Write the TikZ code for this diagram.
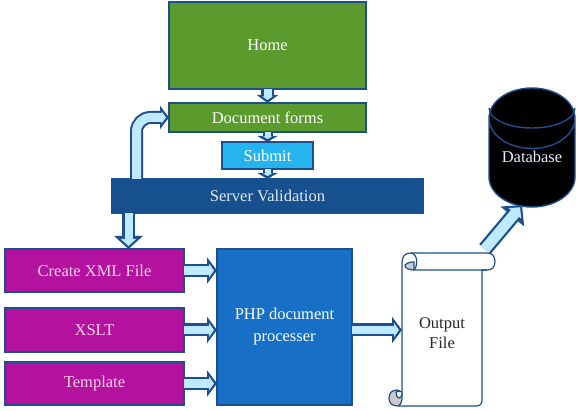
\documentclass[tikz,border=0pt]{standalone}
\usepackage{fontspec}
\setmainfont{Liberation Serif}
\usepackage{xcolor}
\usetikzlibrary{arrows.meta,positioning,calc,shapes.geometric}
\definecolor{edgeblue}{HTML}{1D4F8F}
\definecolor{cgreen}{HTML}{5B9A2C}
\definecolor{csubmit}{HTML}{25B4EE}
\definecolor{cserver}{HTML}{16508F}
\definecolor{cmagenta}{HTML}{B3129E}
\definecolor{cphp}{HTML}{176FC6}
\definecolor{arfill}{HTML}{BFE9FF}
\definecolor{curlgray}{HTML}{CBCBCB}
\tikzset{
  box/.style    = {draw=edgeblue, line width=1.4pt, align=center, inner sep=2pt, outer sep=0pt,
                   text=white, font=\fontsize{16.5}{22}\selectfont},
  gbox/.style   = {box, fill=cgreen, minimum width=197pt},
  mbox/.style   = {box, fill=cmagenta, minimum width=179pt, text=white!82!magenta},
  % outer width/length/head width, then the same for the light inside
  fatar/.style n args={6}{draw=edgeblue, line width=#1pt,
                   -{Triangle[length=#2pt, width=#3pt]},
                   postaction={draw=arfill, line width=#4pt,
                   -{Triangle[length=#5pt, width=#6pt]}, shorten >=3pt}},
  arsmall/.style = {fatar={10}{6}{20}{6}{2.5}{9}},
  armid/.style   = {fatar={13}{9}{23}{9}{4.5}{12}},
  arbig/.style   = {fatar={13}{10}{26}{8.5}{5}{14}},
  scrollln/.style = {draw=edgeblue, line width=1.2pt},
}
\begin{document}
\begin{tikzpicture}[x=1pt, y=-1pt]
  \useasboundingbox (0,0) rectangle (579,411);
  \node[gbox, minimum height=87pt] (home) at (267.5,45.5) {Home};
  \node[gbox, minimum height=29pt, below=14pt of home] (forms) {Document forms};
  \node[box, fill=csubmit, minimum width=91pt, minimum height=27pt, below=10pt of forms] (submit) {Submit};
  \node[box, fill=cserver, draw=cserver, minimum width=312pt, minimum height=34pt, below=10pt of submit, text=white!88!cserver] (server) {Server Validation};
  \node[mbox, minimum height=43pt] (create) at (94.5,270.5) {Create XML File};
  \node[mbox, minimum height=44pt, below=16pt of create] (xslt) {XSLT};
  \node[mbox, minimum height=43pt, below=10pt of xslt] (template) {Template};
  \node[box, fill=cphp, minimum width=135pt, minimum height=156pt, right=33pt of create.north east, anchor=north west] (php) {PHP document\\processer};
  \node[cylinder, shape border rotate=90, aspect=1.0, draw=edgeblue, line width=1.4pt, fill=black,
        minimum width=86pt, minimum height=119pt, outer sep=0pt, inner sep=0pt, text=white!88!cphp,
        anchor=shape center, font=\fontsize{16.5}{22}\selectfont] (db) at (532,147.5) {\raisebox{12pt}{Database}};
  \draw[draw=edgeblue, line width=1.4pt] ($(db.north)+(-43,20)$) arc[start angle=180, end angle=360, x radius=43pt, y radius=20pt];
  \coordinate (scrollout) at (485,249);

  % small arrows down the middle
  \draw[fatar={13}{8}{21}{8}{3.5}{10}] (home) -- (forms);
  \draw[arsmall] (forms) -- (submit);
  \draw[arsmall] (submit) -- (server);

  % back up to the forms and down to the xml box
  \draw[armid, rounded corners=14pt] ($(server.north west)+(25,0)$) |- (forms.west);
  \draw[fatar={13}{13}{28}{8}{7}{15}] ($(server.south west)+(17,0)$) coordinate (dn) -- (dn |- create.north);

  \draw[arbig] (create.east) -- (create.east -| php.west);
  \draw[arbig] (xslt.east) -- (xslt.east -| php.west);
  \draw[arbig] (template.east) -- (template.east -| php.west);
  \draw[arbig] (php.east |- 0,330) coordinate (phpout) -- (402,330);
  \draw[fatar={15}{15}{30}{10.5}{8}{16}] (scrollout) -- ($(db.south)+(-10,-2)$);

  % scroll
  \draw[scrollln, fill=white] (402,395) -- (402,263) .. controls (402,256) and (405,253) .. (411,253)
    -- (487,253) .. controls (492,253) and (495,256) .. (495,261.5)
    .. controls (495,267) and (492,270) .. (487,270) -- (482,270) -- (482,400)
    .. controls (482,404) and (480,406) .. (476,406) -- (398,406);
  \draw[scrollln, line join=round] (487,270) -- (414,270)
    .. controls (418,266) and (418,254) .. (411,253);
  \draw[scrollln, fill=curlgray] (414,270) .. controls (408,270) and (405,268) .. (405,265)
    .. controls (408,262) and (412,262) .. (414,262) .. controls (414,265) and (414,268) .. (414,270);
  \draw[scrollln, fill=curlgray] (398,406) .. controls (392,406) and (389,403) .. (389,398)
    .. controls (389,393) and (392,390) .. (397,390) .. controls (400,390) and (402,392) .. (402,396)
    .. controls (402,400) and (402,404) .. (398,406);
  \draw[scrollln, fill=white] (402,392) .. controls (400,391) and (397,391) .. (396,392)
    .. controls (396,395) and (397,398) .. (399,398) .. controls (401,398) and (402,396) .. (402,392);
  \node[align=center, text=black!85, inner sep=0pt, font=\fontsize{16.5}{20}\selectfont] (output) at (442,333) {Output\\File};
\end{tikzpicture}
\end{document}
